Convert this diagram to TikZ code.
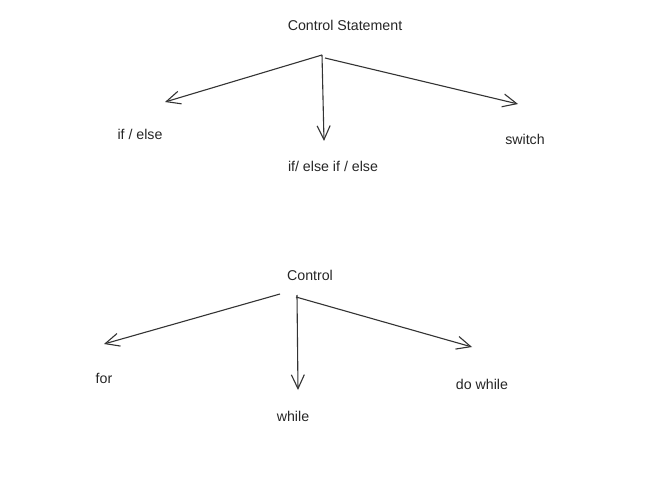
\documentclass[tikz,border=0pt]{standalone}
\usepackage{fontspec}
\setmainfont{Liberation Sans}
\usetikzlibrary{arrows.meta}
\begin{document}
\begin{tikzpicture}[x=1pt,y=-1pt,
  lbl/.style={font=\fontsize{14.2}{17}\selectfont, text=black!85, inner sep=0pt},
  arr/.style={draw=black!80, line width=1.1pt, -{Straight Barb[length=14pt,width=13pt,line width=1.1pt]}}]
\useasboundingbox[fill=white] (0,0) rectangle (672,481);
% top tree
\node[lbl] (cs) at (345,25) {Control Statement};
\node[lbl] (ie) at (140,134) {if / else};
\node[lbl] (iei) at (333,166) {if/ else if / else};
\node[lbl] (sw) at (525,139) {switch};
\coordinate (o1) at (322,55);
\coordinate (o1r) at (325,58);
\coordinate (e1) at (165,102);
\coordinate (e2) at (324,141);
\coordinate (e3) at (518,104);
\draw[arr] (o1) -- (e1);
\draw[arr] (o1) -- (e2);
\draw[arr] (o1r) -- (e3);
% bottom tree
\node[lbl] (c) at (310,275) {Control};
\node[lbl] (f) at (104,378) {for};
\node[lbl] (w) at (293,416) {while};
\node[lbl] (dw) at (482,384) {do while};
\coordinate (o2l) at (280,294);
\coordinate (o2m) at (297,295);
\coordinate (o2r) at (296,297);
\coordinate (f1) at (104,344);
\coordinate (f2) at (298,390);
\coordinate (f3) at (472,347);
\draw[arr] (o2l) -- (f1);
\draw[arr] (o2m) -- (f2);
\draw[arr] (o2r) -- (f3);
\end{tikzpicture}
\end{document}
